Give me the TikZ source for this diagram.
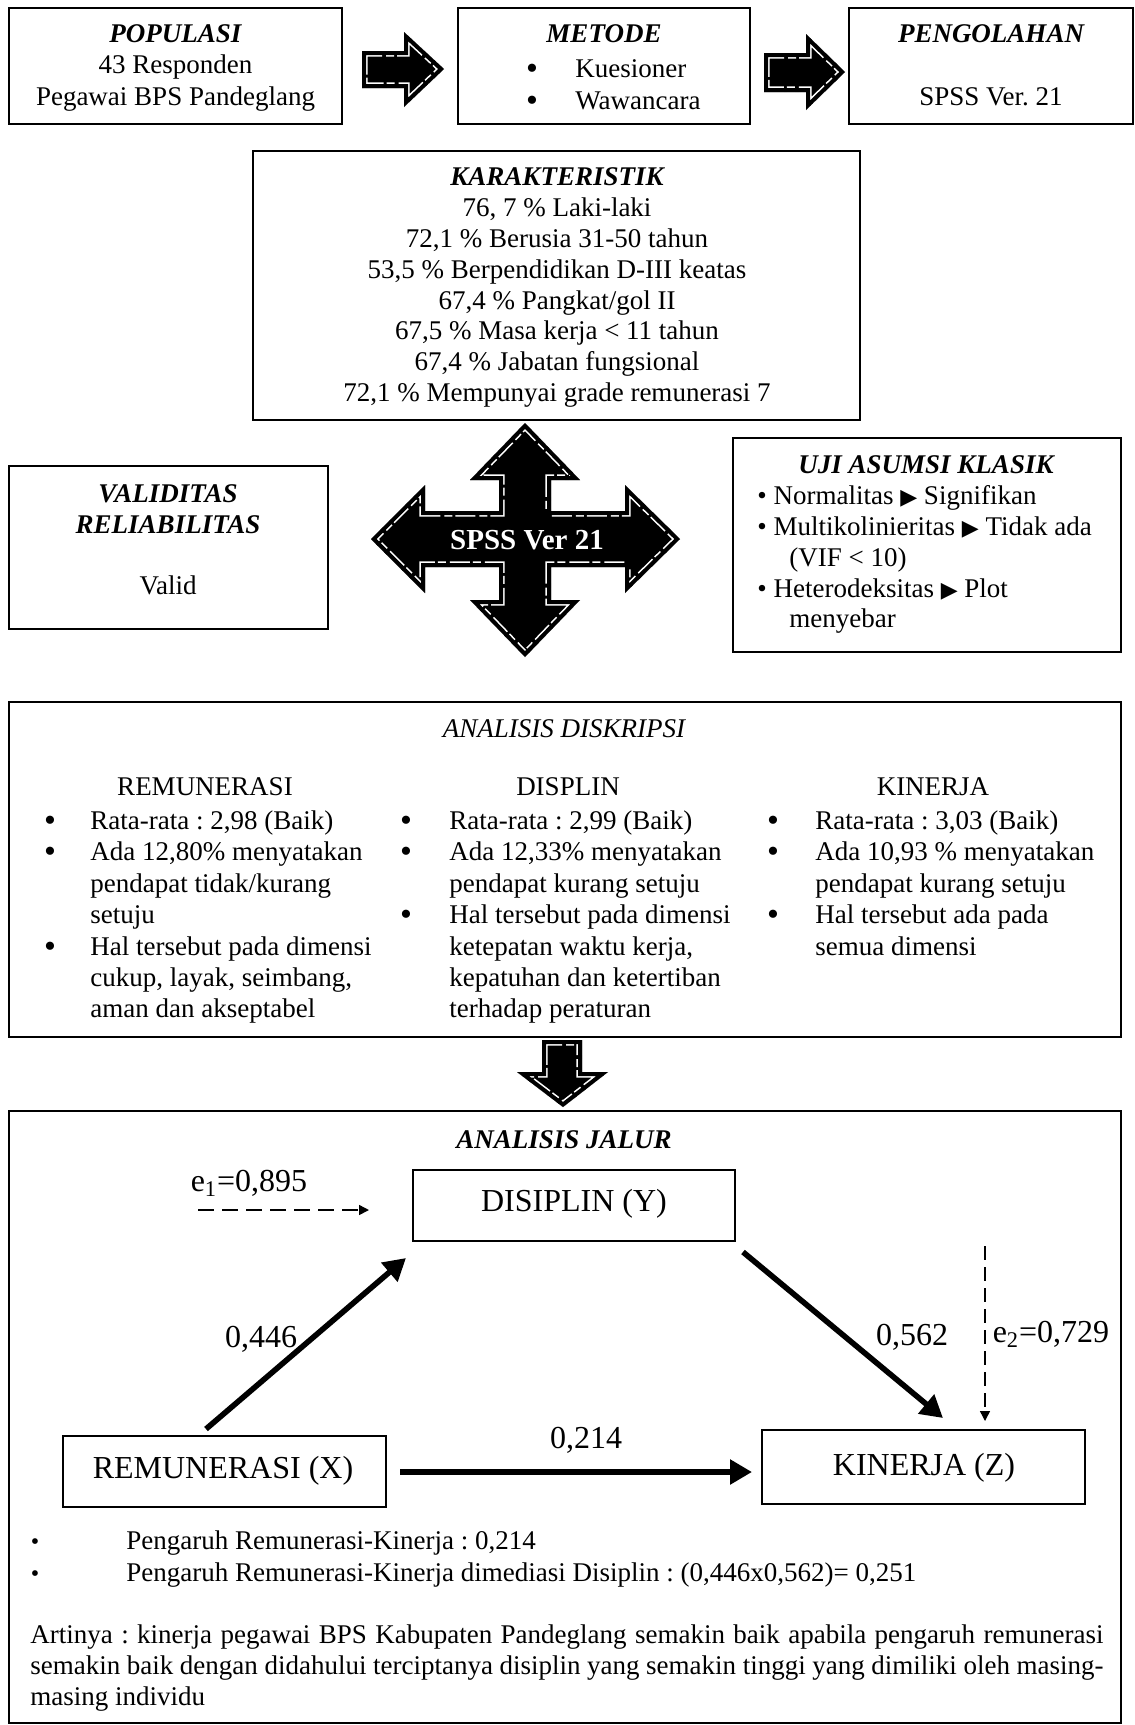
\documentclass[tikz,border=0pt]{standalone}
\usepackage{fontspec}
\setmainfont{Liberation Serif}
\newfontfamily\symfont{DejaVu Sans}
\usetikzlibrary{arrows.meta,calc}
\frenchspacing

% black block arrow with a broken white rim just inside its edge
\newcommand\blockarrow[1]{%
  \fill[black] #1;
  \begin{scope}
    \clip #1;
    \draw[white, line width=5.6pt, line join=miter, dash pattern=on 10pt off 2pt on 4pt off 1.5pt] #1;
    \draw[black, line width=4pt, line join=miter] #1;
  \end{scope}}
\newcommand\tri{{\symfont\fontsize{11}{11}\selectfont ▶}}
\newcommand\bigbul{{\fontsize{17}{17}\selectfont\raisebox{-1.2pt}{\textbullet}}}

\begin{document}
\begin{tikzpicture}[x=0.5pt,y=-0.5pt,
  frame/.style={draw, line width=1pt, rectangle, inner sep=0pt},
  txt/.style={anchor=base, inner sep=0pt, font=\fontsize{13.5}{15.5}\selectfont},
  txtl/.style={txt, anchor=base west},
  hd/.style={txt, font=\fontsize{13.5}{15.5}\selectfont\bfseries\itshape},
  big/.style={anchor=base, inner sep=0pt, font=\fontsize{16}{19}\selectfont},
  patharrow/.style={line width=2.8pt, -{Triangle[length=11pt,width=12pt]}},
  errarrow/.style={line width=0.8pt, -{Triangle[length=5pt,width=5pt]}},
]
\fill[white] (0,0) rectangle (1135,1725);
\useasboundingbox (0,0) rectangle (1135,1725);

% ---------- top row ----------
\node[frame, minimum width=166.5pt, minimum height=58pt] (pop) at (175.5,66) {};
\node[hd] (popT) at (175.5,42) {POPULASI};
\node[txt] (pop1) at (175.5,73) {43 Responden};
\node[txt] (pop2) at (175.5,105) {Pegawai BPS Pandeglang};

\node[frame, minimum width=146pt, minimum height=58pt] (met) at (604,66) {};
\node[hd] (metT) at (604,42) {METODE};
\node[txt] (metb1) at (532,77) {\bigbul};
\node[txtl] (met1) at (575,77) {Kuesioner};
\node[txt] (metb2) at (532,109) {\bigbul};
\node[txtl] (met2) at (575,109) {Wawancara};

\node[frame, minimum width=142pt, minimum height=58pt] (peng) at (991,66) {};
\node[hd] (pengT) at (991,42) {PENGOLAHAN};
\node[txt] (peng1) at (991,105) {SPSS Ver. 21};

\blockarrow{(362,51) -- (404,51) -- (404,32) -- (444,69) -- (404,107) -- (404,88) -- (362,88) -- cycle}
\blockarrow{(764,53) -- (806,53) -- (806,34) -- (845,72) -- (806,110) -- (806,92) -- (764,92) -- cycle}

% ---------- characteristics ----------
\node[frame, minimum width=303.5pt, minimum height=134.5pt] (kar) at (556.5,285.5) {};
\node[hd] (karT) at (557,185) {KARAKTERISTIK};
\node[txt] (k1) at (557,216) {76, 7 \% Laki-laki};
\node[txt] (k2) at (557,247) {72,1 \% Berusia 31-50 tahun};
\node[txt] (k3) at (557,278) {53,5 \% Berpendidikan D-III keatas};
\node[txt] (k4) at (557,309) {67,4 \% Pangkat/gol II};
\node[txt] (k5) at (557,339) {67,5 \% Masa kerja < 11 tahun};
\node[txt] (k6) at (557,370) {67,4 \% Jabatan fungsional};
\node[txt] (k7) at (557,401) {72,1 \% Mempunyai grade remunerasi 7};

% ---------- validity / SPSS / classical assumptions ----------
\node[frame, minimum width=159.5pt, minimum height=81.5pt] (val) at (168.5,547.5) {};
\node[hd] (valT1) at (168,502) {VALIDITAS};
\node[hd] (valT2) at (168,533) {RELIABILITAS};
\node[txt] (val1) at (168,594) {Valid};

\blockarrow{(525,423) -- (580,480) -- (551,480) -- (551,511) -- (625,511) -- (625,485) -- (680,539) -- (625,593) -- (625,567) -- (551,567) -- (551,600) -- (580,600) -- (525,657) -- (470,600) -- (499,600) -- (499,567) -- (425,567) -- (425,593) -- (371,539) -- (425,485) -- (425,511) -- (499,511) -- (499,480) -- (470,480) -- cycle}
\node[text=white, font=\fontsize{14.5}{16}\selectfont\bfseries, inner sep=0pt] (spss) at (527,540) {SPSS Ver 21};

\node[frame, minimum width=194pt, minimum height=107pt] (uji) at (927,545) {};
\node[hd] (ujiT) at (926,473) {UJI ASUMSI KLASIK};
\node[txtl] (u1) at (757,504) {\textbullet\ Normalitas \tri\ Signifikan};
\node[txtl] (u2) at (757,535) {\textbullet\ Multikolinieritas \tri\ Tidak ada};
\node[txtl] (u3) at (789,566) {(VIF < 10)};
\node[txtl] (u4) at (757,597) {\textbullet\ Heterodeksitas \tri\ Plot};
\node[txtl] (u5) at (789,627) {menyebar};

% ---------- descriptive analysis ----------
\node[frame, minimum width=556pt, minimum height=167.5pt] (dsk) at (565,869.5) {};
\node[txt, font=\fontsize{13.5}{15.5}\selectfont\itshape] (dskT) at (564,737) {ANALISIS DISKRIPSI};

\node[txt] (c1h) at (205,795) {REMUNERASI};
\node[txt] (c1b1) at (50,829) {\bigbul};
\node[txtl] (c1l1) at (90,829) {Rata-rata : 2,98 (Baik)};
\node[txt] (c1b2) at (50,860) {\bigbul};
\node[txtl] (c1l2) at (90,860) {Ada 12,80\% menyatakan};
\node[txtl] (c1l3) at (90,892) {pendapat tidak/kurang};
\node[txtl] (c1l4) at (90,923) {setuju};
\node[txt] (c1b3) at (50,955) {\bigbul};
\node[txtl] (c1l5) at (90,955) {Hal tersebut pada dimensi};
\node[txtl] (c1l6) at (90,986) {cukup, layak, seimbang,};
\node[txtl] (c1l7) at (90,1017) {aman dan akseptabel};

\node[txt] (c2h) at (568,795) {DISPLIN};
\node[txt] (c2b1) at (406,829) {\bigbul};
\node[txtl] (c2l1) at (449,829) {Rata-rata : 2,99 (Baik)};
\node[txt] (c2b2) at (406,860) {\bigbul};
\node[txtl] (c2l2) at (449,860) {Ada 12,33\% menyatakan};
\node[txtl] (c2l3) at (449,892) {pendapat kurang setuju};
\node[txt] (c2b3) at (406,923) {\bigbul};
\node[txtl] (c2l4) at (449,923) {Hal tersebut pada dimensi};
\node[txtl] (c2l5) at (449,955) {ketepatan waktu kerja,};
\node[txtl] (c2l6) at (449,986) {kepatuhan dan ketertiban};
\node[txtl] (c2l7) at (449,1017) {terhadap peraturan};

\node[txt] (c3h) at (933,795) {KINERJA};
\node[txt] (c3b1) at (773,829) {\bigbul};
\node[txtl] (c3l1) at (815,829) {Rata-rata : 3,03 (Baik)};
\node[txt] (c3b2) at (773,860) {\bigbul};
\node[txtl] (c3l2) at (815,860) {Ada 10,93 \% menyatakan};
\node[txtl] (c3l3) at (815,892) {pendapat kurang setuju};
\node[txt] (c3b3) at (773,923) {\bigbul};
\node[txtl] (c3l4) at (815,923) {Hal tersebut ada pada};
\node[txtl] (c3l5) at (815,955) {semua dimensi};

\blockarrow{(542,1040) -- (582,1040) -- (582,1072) -- (608,1072) -- (563,1107) -- (517,1072) -- (542,1072) -- cycle}

% ---------- path analysis ----------
\node[frame, minimum width=556pt, minimum height=306pt] (jal) at (565,1417) {};
\node[hd] (jalT) at (564,1148) {ANALISIS JALUR};

\node[frame, minimum width=161pt, minimum height=35.5pt] (dis) at (574,1205.5) {};
\node[big] (disT) at (574,1211) {DISIPLIN (Y)};
\node[frame, minimum width=161.5pt, minimum height=35.5pt] (rem) at (224.5,1471.5) {};
\node[big] (remT) at (223,1478) {REMUNERASI (X)};
\node[frame, minimum width=161.5pt, minimum height=37pt] (kin) at (923.5,1467) {};
\node[big] (kinT) at (924,1475) {KINERJA (Z)};

\draw[patharrow] ($(rem.north)+(-18.5,-6)$) -- ($(dis.south west)+(-6,16)$);
\draw[patharrow] ($(dis.south east)+(7,10)$) -- ($(kin.north)+(19.5,-11)$);
\draw[patharrow] ($(rem.east)+(13,0.5)$) -- ($(kin.west)+(-9,5)$);

\node[big] (b446) at (261,1347) {0,446};
\node[big] (b562) at (912,1345) {0,562};
\node[big] (b214) at (586,1448) {0,214};

\coordinate (e1src) at (198,1210);
\node[big] (e1) at (249,1191) {e\textsubscript{1}=0,895};
\draw[errarrow, dash pattern=on 8pt off 4pt] (e1src) -- ($(dis.west)+(-43,4.5)$);

\coordinate (e2src) at (985,1246);
\node[big] (e2) at (1051,1342) {e\textsubscript{2}=0,729};
\draw[errarrow, line width=0.7pt, dash pattern=on 7pt off 3.5pt] (e2src) -- ($(kin.north)+(61.5,-8)$);

% summary
\node[txt, font=\fontsize{12}{12}\selectfont] (sb1) at (35,1549) {\textbullet};
\node[txtl] (s1) at (126,1549) {Pengaruh Remunerasi-Kinerja : 0,214};
\node[txt, font=\fontsize{12}{12}\selectfont] (sb2) at (35,1581) {\textbullet};
\node[txtl] (s2) at (126,1581) {Pengaruh Remunerasi-Kinerja dimediasi Disiplin : (0,446x0,562)= 0,251};

\node[txtl] (p1) at (30,1643) {\makebox[536.5pt][s]{Artinya : kinerja pegawai BPS Kabupaten Pandeglang semakin baik apabila pengaruh remunerasi}};
\node[txtl] (p2) at (30,1674) {\makebox[536.5pt][s]{semakin baik dengan didahului terciptanya disiplin yang semakin tinggi yang dimiliki oleh masing-}};
\node[txtl] (p3) at (30,1705) {masing individu};
\end{tikzpicture}
\end{document}
